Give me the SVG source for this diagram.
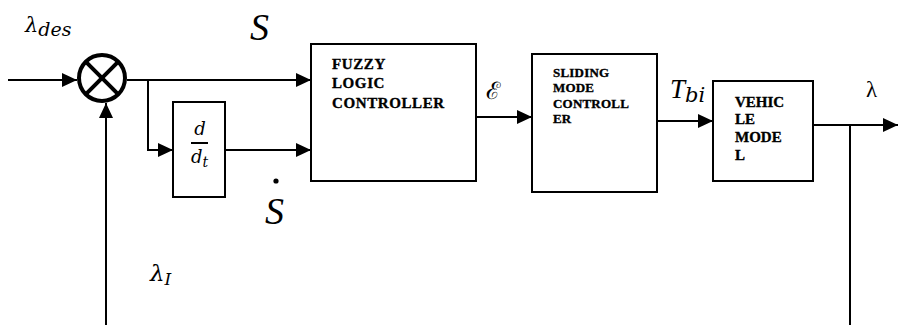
<svg xmlns="http://www.w3.org/2000/svg" width="899" height="325" viewBox="0 0 899 325">
  <style>
    .box { fill: #fff; stroke: #000; stroke-width: 2; }
    .wire { fill: none; stroke: #000; stroke-width: 2; }
    .blk { font-family: "Liberation Serif", "Times New Roman", serif; font-weight: bold; fill: #000; stroke: #000; stroke-width: 0.35; }
    .math { font-family: "DejaVu Serif", "Liberation Serif", serif; font-style: italic; fill: #000; }
    .mathS { font-family: "Liberation Serif", "DejaVu Serif", serif; font-style: italic; fill: #000; }
    .up { font-family: "Liberation Serif", "DejaVu Serif", serif; fill: #000; }
  </style>
  <defs>
    <marker id="arrow" markerUnits="userSpaceOnUse" markerWidth="16" markerHeight="14" refX="15" refY="7" orient="auto">
      <path d="M0,0 L15,7 L0,14 Z" fill="#000"/>
    </marker>
  </defs>

  <rect width="899" height="325" fill="#fff"/>

  <!-- connectors -->
  <g id="connectors" class="wire">
    <line x1="8" y1="80" x2="77" y2="80" marker-end="url(#arrow)"/>
    <line x1="127" y1="80" x2="311" y2="80" marker-end="url(#arrow)"/>
    <polyline points="148,80 148,150 173,150" marker-end="url(#arrow)"/>
    <line x1="225" y1="150" x2="311" y2="150" marker-end="url(#arrow)"/>
    <line x1="463" y1="117" x2="532" y2="117" marker-end="url(#arrow)"/>
    <line x1="657" y1="121" x2="713" y2="121" marker-end="url(#arrow)"/>
    <line x1="813" y1="125" x2="898" y2="125" marker-end="url(#arrow)"/>
    <line x1="850" y1="125" x2="850" y2="325"/>
    <line x1="106" y1="325" x2="106" y2="103" marker-end="url(#arrow)"/>
  </g>

  <!-- summing junction -->
  <g id="sum">
    <circle cx="102" cy="78" r="23" fill="#fff" stroke="#000" stroke-width="4"/>
    <line x1="85.7" y1="61.7" x2="118.3" y2="94.3" stroke="#000" stroke-width="4"/>
    <line x1="118.3" y1="61.7" x2="85.7" y2="94.3" stroke="#000" stroke-width="4"/>
  </g>

  <!-- derivative block -->
  <g id="deriv">
    <rect class="box" x="173" y="102" width="52" height="95"/>
    <text class="math" x="200" y="135" font-size="18" text-anchor="middle">d</text>
    <line x1="191" y1="143" x2="208" y2="143" stroke="#000" stroke-width="2"/>
    <text class="math" x="191" y="163" font-size="18">d<tspan font-size="14" dy="4">t</tspan></text>
  </g>

  <!-- fuzzy logic controller -->
  <g id="flc">
    <rect class="box" x="311" y="44" width="165" height="137"/>
    <text class="blk" font-size="15" letter-spacing="0.6">
      <tspan x="332" y="69">FUZZY</tspan>
      <tspan x="332" y="88">LOGIC</tspan>
      <tspan x="332" y="108">CONTROLLER</tspan>
    </text>
  </g>

  <!-- sliding mode controller -->
  <g id="smc">
    <rect class="box" x="532" y="54" width="125" height="138"/>
    <text class="blk" font-size="13" letter-spacing="0.2">
      <tspan x="553" y="77">SLIDING</tspan>
      <tspan x="553" y="92">MODE</tspan>
      <tspan x="553" y="108">CONTROLL</tspan>
      <tspan x="553" y="123">ER</tspan>
    </text>
  </g>

  <!-- vehicle model -->
  <g id="vehicle">
    <rect class="box" x="713" y="81" width="100" height="100"/>
    <text class="blk" font-size="15">
      <tspan x="735" y="107">VEHIC</tspan>
      <tspan x="735" y="124">LE</tspan>
      <tspan x="735" y="142">MODE</tspan>
      <tspan x="735" y="160">L</tspan>
    </text>
  </g>

  <!-- signal labels -->
  <g id="labels">
    <text class="math" x="25" y="32" font-size="21">λ<tspan font-size="19" dy="4">des</tspan></text>
    <text class="mathS" x="250" y="40" font-size="38">S</text>
    <circle cx="276" cy="181" r="2.6" fill="#000"/>
    <text class="mathS" x="265" y="224" font-size="38">S</text>
    <text class="up" x="486" y="99" font-size="24" fill="#333">ℰ</text>
    <text class="mathS" x="670" y="98" font-size="27">T<tspan class="math" font-size="21" dy="4">bi</tspan></text>
    <text class="up" x="866" y="97" font-size="23">λ</text>
    <text class="math" x="150" y="281" font-size="23">λ<tspan font-size="17" dy="4">I</tspan></text>
  </g>
</svg>
